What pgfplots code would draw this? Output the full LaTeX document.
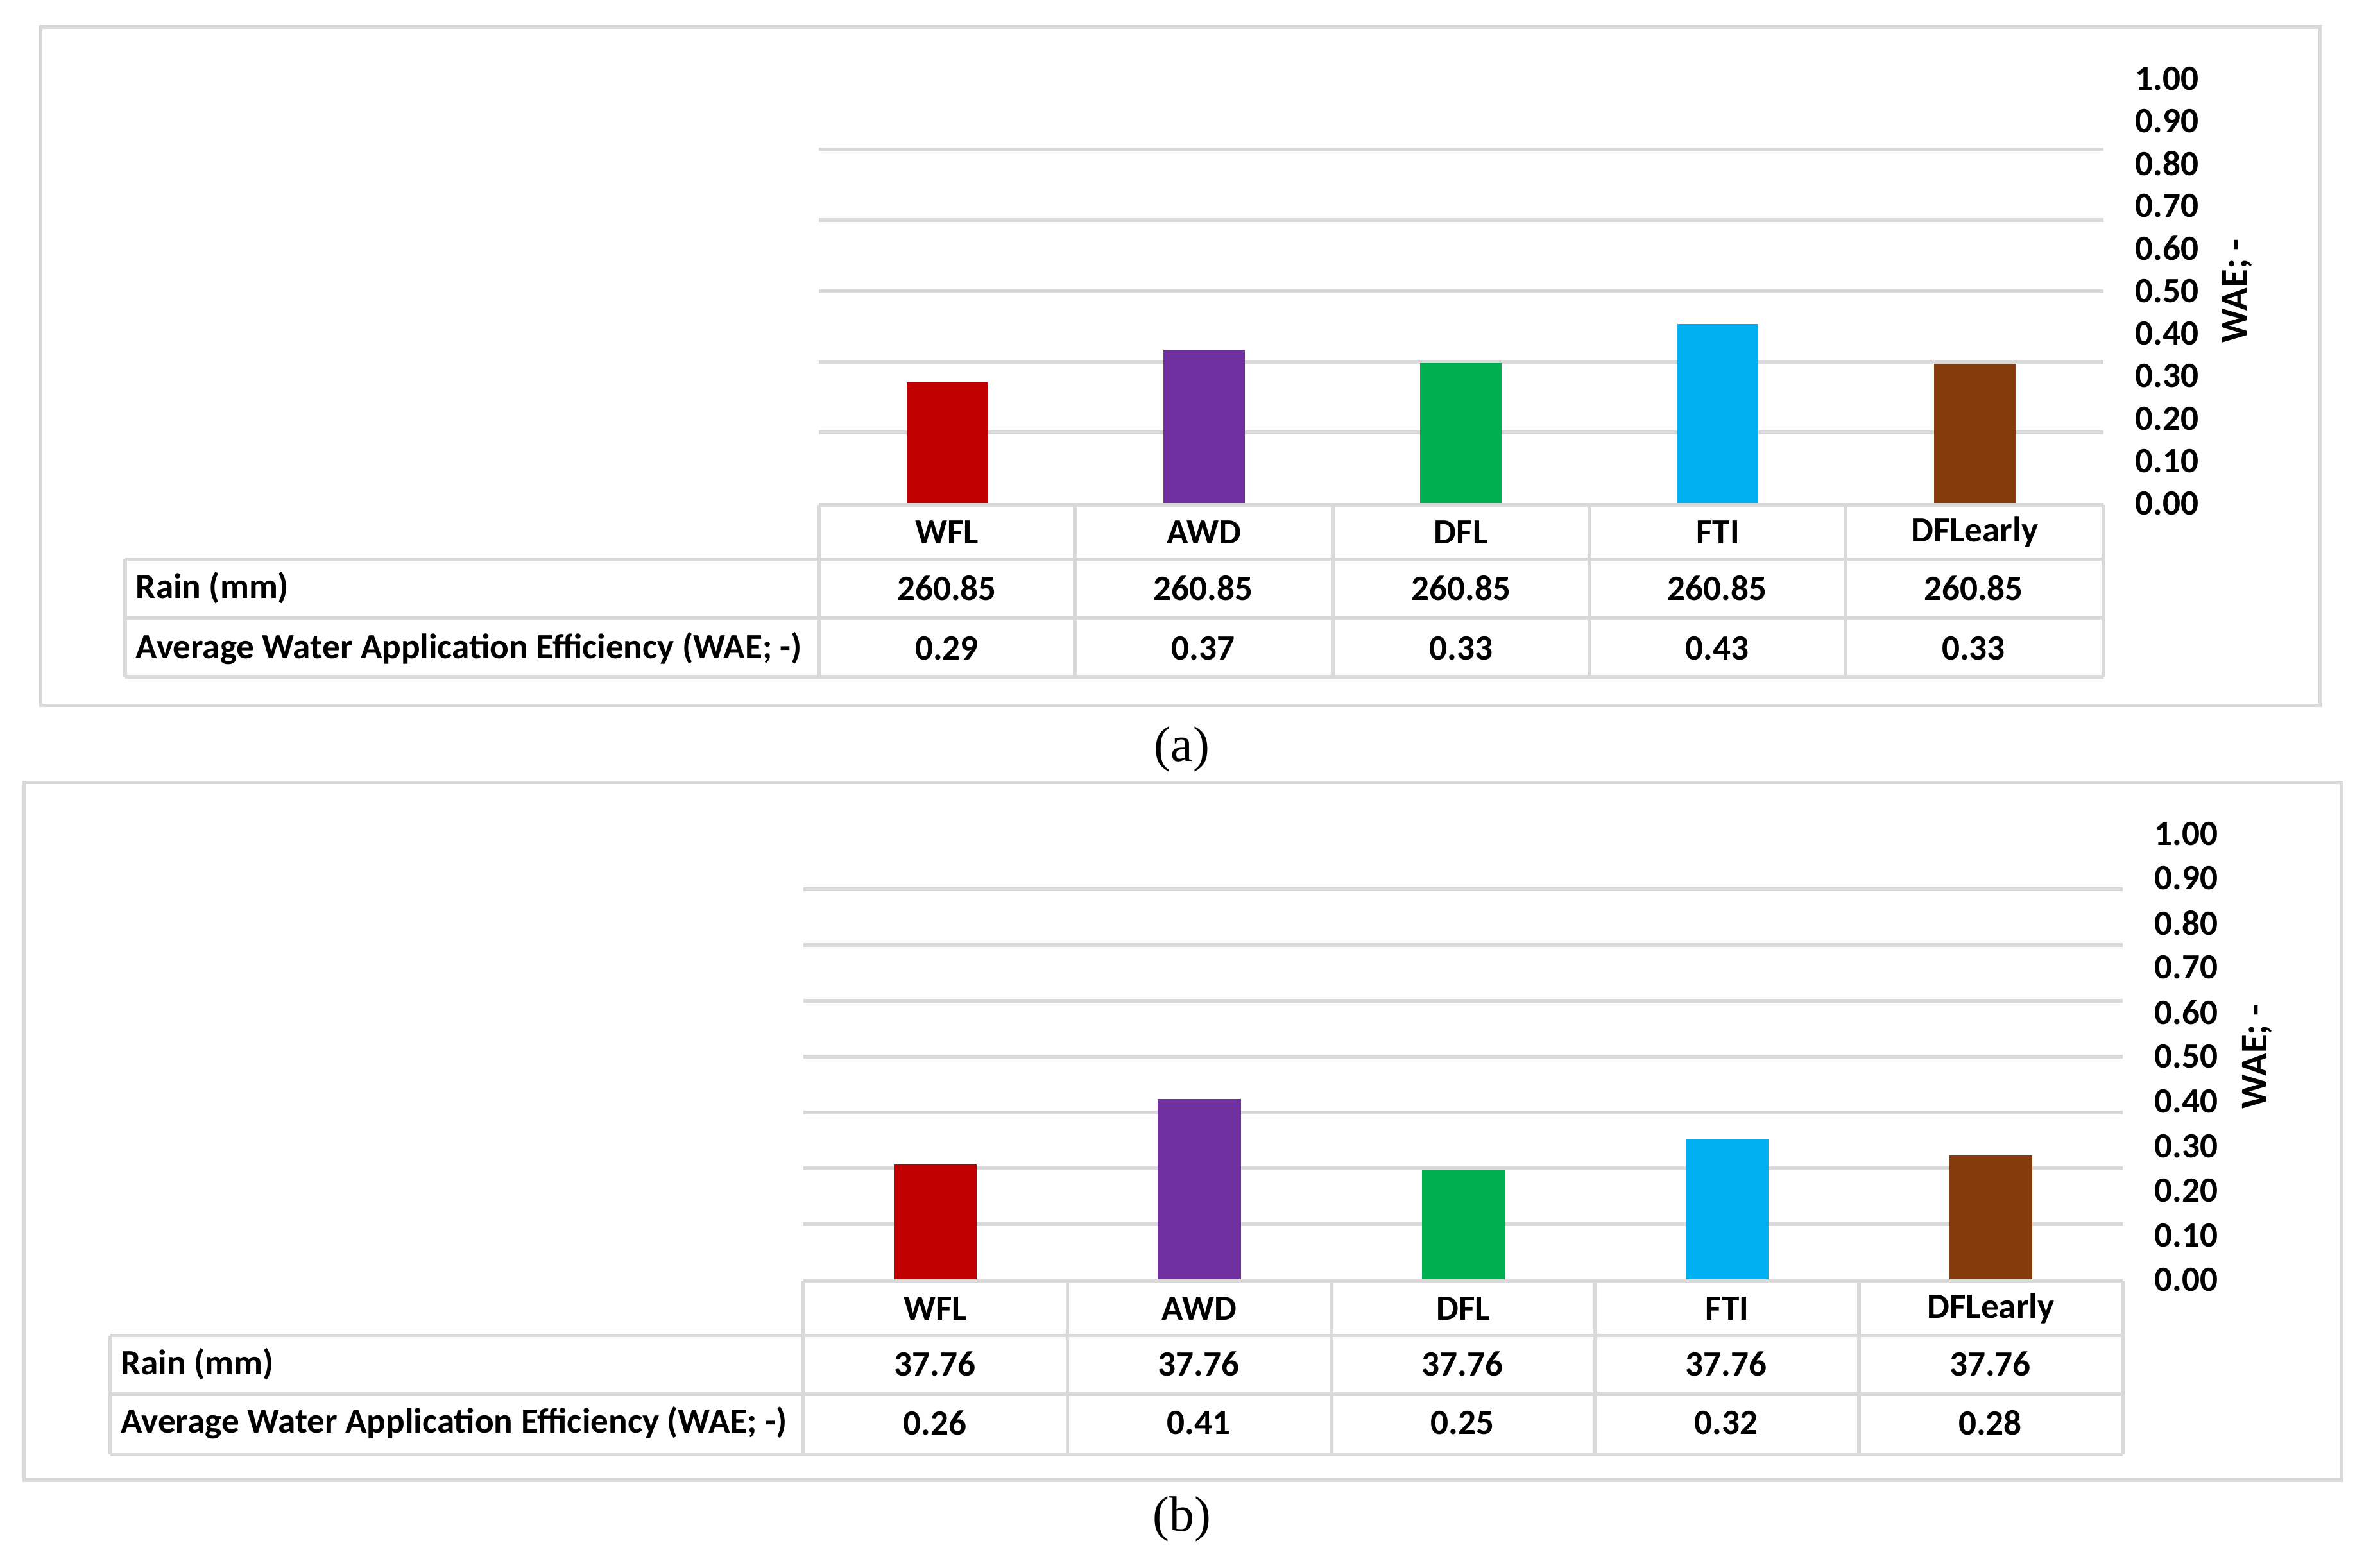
\documentclass[border=0pt]{standalone}
\usepackage{pgfplots}
\pgfplotsset{compat=1.18}
\usepackage{fontspec}
\setmainfont{Carlito}
\newfontfamily\capfont{Liberation Serif}

\definecolor{gridgray}{HTML}{D9D9D9}
\definecolor{cRed}{HTML}{C00000}
\definecolor{cPurple}{HTML}{7030A0}
\definecolor{cGreen}{HTML}{00B050}
\definecolor{cSky}{HTML}{00B0F0}
\definecolor{cBrown}{HTML}{843C0C}

\newcommand\tabfont{\fontsize{23.5}{26}\selectfont\bfseries}
\newcommand\labfont{\fontsize{25}{28}\selectfont\bfseries}

\pgfplotsset{
  waepanel/.style={
    scale only axis, anchor=south west,
    xmin=0.5, xmax=5.5, ymin=0, ymax=1,
    axis line style={draw=none}, major tick length=0pt,
    xtick={1,2,3,4,5}, xticklabels={WFL,AWD,DFL,FTI,DFLearly},
    xtick pos=bottom,
    xticklabel style={anchor=center, yshift=-19pt, font=\tabfont},
    ytick={0,0.1,0.2,0.3,0.4,0.5,0.6,0.7,0.8,0.9,1.0},
    ytick pos=right, yticklabel pos=right,
    yticklabel style={anchor=west, inner sep=0pt, xshift=21pt, font=\tabfont,
      /pgf/number format/fixed, /pgf/number format/fixed zerofill,
      /pgf/number format/precision=2, /pgf/number format/assume math mode=true},
    extra y tick labels={},
    extra y tick style={grid=major},
    major grid style={draw=gridgray, line width=2.4pt},
  },
  bar/.style={ybar, draw=none, fill=#1},
}

\begin{document}
\begin{tikzpicture}
\useasboundingbox (0pt,0pt) rectangle (1568pt,-1040pt);

% ---------------- panel (a) ----------------
\begin{axis}[waepanel, at={(543pt,-334pt)}, width=852pt, height=282pt,
  bar width=54pt,
  extra y ticks={0.16667,0.33333,0.5,0.66667,0.83333}]
  \addplot[bar=cRed]    coordinates {(1,0.285)};
  \addplot[bar=cPurple] coordinates {(2,0.362)};
  \addplot[bar=cGreen]  coordinates {(3,0.330)};
  \addplot[bar=cSky]    coordinates {(4,0.422)};
  \addplot[bar=cBrown]  coordinates {(5,0.329)};
\end{axis}

% ---------------- panel (b) ----------------
\begin{axis}[waepanel, at={(533pt,-849pt)}, width=875pt, height=296pt,
  bar width=55pt,
  extra y ticks={0.125,0.25,0.375,0.5,0.625,0.75,0.875}]
  \addplot[bar=cRed]    coordinates {(1,0.258)};
  \addplot[bar=cPurple] coordinates {(2,0.405)};
  \addplot[bar=cGreen]  coordinates {(3,0.245)};
  \addplot[bar=cSky]    coordinates {(4,0.315)};
  \addplot[bar=cBrown]  coordinates {(5,0.279)};
\end{axis}

\begin{scope}[x=1pt,y=1pt]
% frame and table of panel (a)
\draw[gridgray, line width=2.4pt] (27,-18) rectangle (1539,-468);
\node[rotate=90, font=\labfont] at (1484,-193) {WAE; -};
\begin{scope}[gridgray, line width=2.4pt]
  \draw (543,-335) -- (1395,-335);
  \draw (83,-371) -- (1395,-371);
  \draw (83,-410) -- (1395,-410);
  \draw (83,-449) -- (1395,-449);
  \draw (83,-371) -- (83,-449);
  \foreach \x in {543,713,884,1054,1224,1395} \draw (\x,-335) -- (\x,-449);
\end{scope}
\node[anchor=west, inner sep=0pt, font=\tabfont] at (90,-390) {Rain (mm)};
\node[anchor=west, inner sep=0pt, font=\tabfont] at (90,-430) {Average Water Application Efficiency (WAE; -)};
\foreach \x/\v in {628/0.29,798/0.37,969/0.33,1139/0.43,1309/0.33}{
  \node[font=\tabfont] at (\x,-390) {260.85};
  \node[font=\tabfont] at (\x,-430) {\v};
}
\node[font=\capfont\fontsize{33}{36}\selectfont] at (784,-497) {(a)};

% frame and table of panel (b)
\draw[gridgray, line width=2.4pt] (16,-519) rectangle (1553,-982);
\node[rotate=90, font=\labfont] at (1497,-701) {WAE; -};
\begin{scope}[gridgray, line width=2.4pt]
  \draw (533,-850) -- (1408,-850);
  \draw (73,-886) -- (1408,-886);
  \draw (73,-925) -- (1408,-925);
  \draw (73,-965) -- (1408,-965);
  \draw (73,-886) -- (73,-965);
  \foreach \x in {533,708,883,1058,1233,1408} \draw (\x,-850) -- (\x,-965);
\end{scope}
\node[anchor=west, inner sep=0pt, font=\tabfont] at (80,-905) {Rain (mm)};
\node[anchor=west, inner sep=0pt, font=\tabfont] at (80,-944) {Average Water Application Efficiency (WAE; -)};
\foreach \x/\v in {620/0.26,795/0.41,970/0.25,1145/0.32,1320/0.28}{
  \node[font=\tabfont] at (\x,-905) {37.76};
  \node[font=\tabfont] at (\x,-944) {\v};
}
\node[font=\capfont\fontsize{33}{36}\selectfont] at (784,-1008) {(b)};
\end{scope}
\end{tikzpicture}
\end{document}
